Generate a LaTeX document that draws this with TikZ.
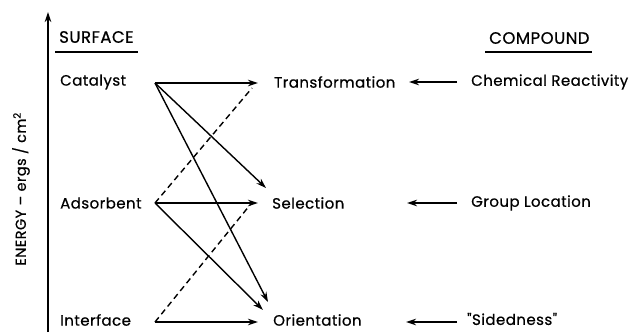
\documentclass[tikz,border=0pt]{standalone}
\usepackage{fontspec}
\setmainfont{Poppins}
\newfontfamily\lettering[FakeBold=0.6,LetterSpace=3]{Poppins}
\usetikzlibrary{arrows.meta}

\begin{document}
\begin{tikzpicture}[x=1pt,y=-1pt]
    \tikzstyle{every node}+=[inner sep=0pt]
    \tikzstyle{lbl}=[anchor=west, font=\lettering\fontsize{15}{18}\selectfont]
    \tikzstyle{head}=[lbl, font=\lettering\fontsize{16.5}{19}\selectfont]
    \tikzstyle{link}=[black, line width=1.4pt, -{Stealth[length=10pt,width=6.5pt]}]
    \tikzstyle{weak}=[black, line width=1.4pt, dash pattern=on 6pt off 4pt]
    \useasboundingbox (0,0) rectangle (639,332);
    % energy axis
    \coordinate (axbot) at (48,332);
    \coordinate (axtop) at (48,12);
    \draw [link, line width=1.2pt] (axbot) -- (axtop);
    \node [lbl, anchor=center, rotate=90, font=\lettering\fontsize{14.5}{17}\selectfont] (energy) at (21,189) {ENERGY \textendash\ ergs / cm\textsuperscript{2}};
    % headings
    \node [head] (surf) at (59,37) {SURFACE};
    \node [head] (comp) at (489,38) {COMPOUND};
    \draw [black, line width=1.3pt] ([xshift=-4pt,yshift=-9pt]surf.south west) -- ([xshift=4pt,yshift=-9pt]surf.south east);
    \draw [black, line width=1.3pt] ([xshift=-4pt,yshift=-8pt]comp.south west) -- ([xshift=2pt,yshift=-8pt]comp.south east);
    % surface column
    \node [lbl] (cat) at (60,82) {Catalyst};
    \node [lbl] (ads) at (60,203) {Adsorbent};
    \node [lbl] (intf) at (60,320) {Interface};
    % middle column
    \node [lbl] (trans) at (274,82) {Transformation};
    \node [lbl] (sel) at (272,203) {Selection};
    \node [lbl] (orient) at (273,320) {Orientation};
    % compound column
    \node [lbl] (react) at (471,82) {Chemical Reactivity};
    \node [lbl] (grploc) at (471,203) {Group Location};
    \node [lbl] (sided) at (467,319) {\symbol{34}Sidedness\symbol{34}};
    % connection points
    \coordinate (catR) at (155,83);
    \coordinate (adsR) at (155,203);
    \coordinate (intfR) at (155,322);
    \coordinate (transL) at (258,83);
    \coordinate (transLo) at (252,88);
    \coordinate (selL) at (258,203);
    \coordinate (selLu) at (266,188);
    \coordinate (selLo) at (250,205);
    \coordinate (orientL) at (258,322);
    \coordinate (orientLu) at (268,302);
    \coordinate (orientLm) at (263,310);
    \coordinate (reactL) at (457,82);
    \coordinate (transR) at (409,82);
    \coordinate (grplocL) at (457,203);
    \coordinate (selR) at (407,203);
    \coordinate (sidedL) at (457,322);
    \coordinate (orientR) at (406,322);
    % surface to process
    \draw [link] (catR) -- (transL);
    \draw [link] (catR) -- (selLu);
    \draw [link] (catR) -- (orientLu);
    \draw [link] (adsR) -- (selL);
    \draw [link] (adsR) -- (orientLm);
    \draw [weak] (adsR) -- (transLo);
    \draw [link] (intfR) -- (orientL);
    \draw [weak] (intfR) -- (selLo);
    % compound to process
    \draw [link] (reactL) -- (transR);
    \draw [link] (grplocL) -- (selR);
    \draw [link] (sidedL) -- (orientR);
\end{tikzpicture}
\end{document}
